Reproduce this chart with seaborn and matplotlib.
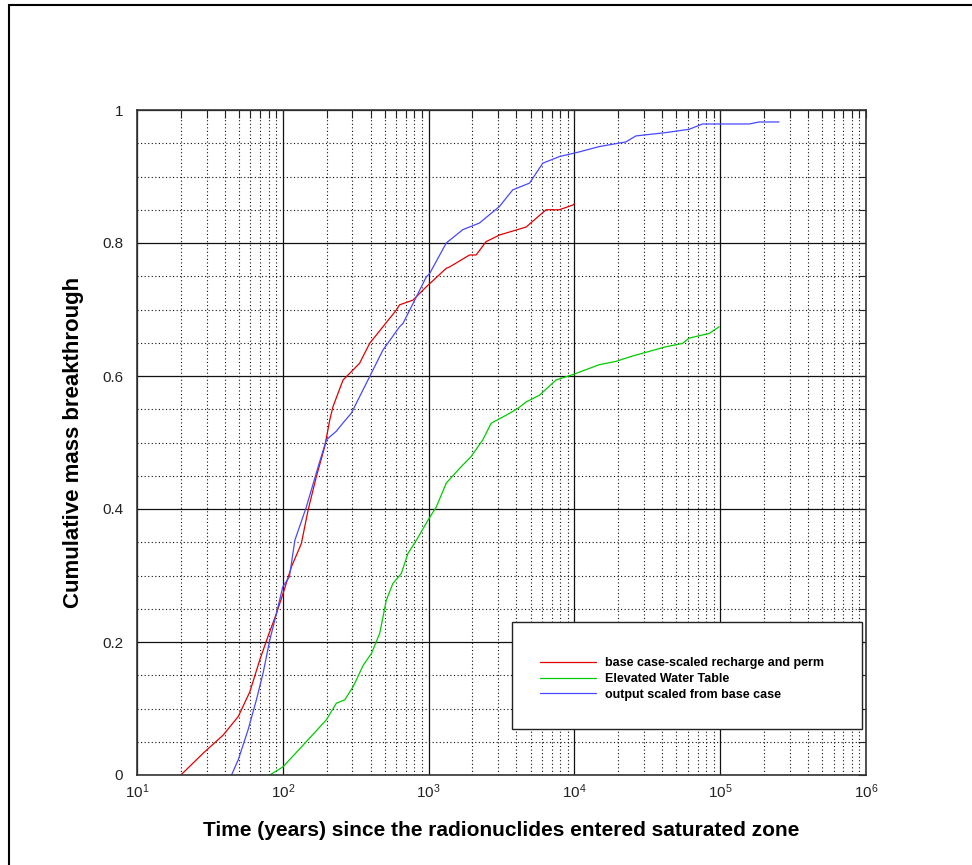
import pandas as pd
import seaborn as sns
import matplotlib.pyplot as plt
from matplotlib.patches import Rectangle
from matplotlib.ticker import LogLocator, MultipleLocator, NullFormatter

sns.set_style("white")
plt.rcParams['font.family'] = ['Liberation Sans', 'DejaVu Sans']
plt.rcParams['mathtext.default'] = 'regular'
plt.rcParams['text.color'] = 'black'
plt.rcParams['axes.labelcolor'] = 'black'

# base case-scaled recharge and perm
red_t = [20, 28.5, 39, 49.5, 59.4, 69.5, 79, 90.5, 100.4, 114.6, 134, 149, 170, 194,
         210, 221, 259, 273, 336, 394, 486, 600, 632, 780, 963, 1322, 1393, 1910,
         2119, 2478, 3063, 4663, 6395, 7890, 9730, 10000]
red_v = [0, 0.033, 0.06, 0.088, 0.125, 0.173, 0.208, 0.243, 0.273, 0.313, 0.348, 0.398,
         0.449, 0.494, 0.534, 0.554, 0.594, 0.599, 0.619, 0.649, 0.674, 0.699, 0.707,
         0.714, 0.734, 0.762, 0.764, 0.782, 0.782, 0.802, 0.812, 0.824, 0.85, 0.85,
         0.857, 0.859]

# Elevated Water Table
green_t = [81.4, 100, 138, 199, 233, 266, 304, 356, 406, 462, 513, 569, 650, 721, 824,
           989, 1129, 1322, 1630, 1959, 2354, 2686, 3400, 4085, 4663, 5750, 7480, 9730,
           14800, 19300, 25000, 32600, 42400, 55200, 61300, 84000, 98400]
green_v = [0, 0.012, 0.045, 0.083, 0.108, 0.113, 0.133, 0.165, 0.183, 0.213, 0.263, 0.288,
           0.303, 0.333, 0.353, 0.383, 0.403, 0.439, 0.461, 0.479, 0.504, 0.529, 0.541,
           0.551, 0.561, 0.571, 0.594, 0.602, 0.617, 0.622, 0.63, 0.637, 0.644, 0.649,
           0.657, 0.664, 0.674]

# output scaled from base case
blue_t = [44.5, 49.5, 57.8, 65.9, 73.2, 81.4, 90.5, 100, 111, 121, 145, 175, 199, 233,
          260, 295, 394, 486, 632, 667, 824, 964, 1016, 1322, 1714, 2233, 3063,
          3780, 4920, 6070, 7890, 10810, 14800, 22550, 26400, 42300, 61300, 75700,
          158000, 185000, 253000]
blue_v = [0, 0.023, 0.068, 0.113, 0.153, 0.203, 0.243, 0.283, 0.298, 0.353, 0.403, 0.464,
          0.504, 0.517, 0.53, 0.544, 0.599, 0.639, 0.674, 0.679, 0.719, 0.749,
          0.754, 0.8, 0.82, 0.83, 0.855, 0.88, 0.89, 0.92, 0.93, 0.937, 0.945, 0.952,
          0.961, 0.966, 0.971, 0.979, 0.979, 0.982, 0.982]

labels = ['base case-scaled recharge and perm', 'Elevated Water Table',
          'output scaled from base case']
colors = ['#e00000', '#00cc00', '#4848ff']

x_ticks = [1e1, 1e2, 1e3, 1e4, 1e5, 1e6]
x_labels = ['$10^1$', '$10^2$', '$10^3$', '$10^4$', '$10^5$', '$10^6$']
y_ticks = [0, 0.2, 0.4, 0.6, 0.8, 1]
y_labels = ['0', '0.2', '0.4', '0.6', '0.8', '1']

df = pd.concat([
    pd.DataFrame({'t': red_t, 'v': red_v, 'series': labels[0]}),
    pd.DataFrame({'t': green_t, 'v': green_v, 'series': labels[1]}),
    pd.DataFrame({'t': blue_t, 'v': blue_v, 'series': labels[2]}),
])

fig = plt.figure(figsize=(9.72, 8.65), dpi=100)
ax = fig.add_axes([137 / 972, 1 - 775 / 865, 729 / 972, 665 / 865])

sns.lineplot(data=df, x='t', y='v', hue='series', palette=colors, hue_order=labels,
             estimator=None, sort=False, lw=0.9, ax=ax)

ax.set_xscale('log')
ax.set_xlim(10, 1e6)
ax.set_ylim(0, 1)
ax.set_xticks(x_ticks)
ax.set_xticklabels(x_labels)
ax.xaxis.set_minor_locator(LogLocator(base=10, subs=range(2, 10)))
ax.xaxis.set_minor_formatter(NullFormatter())
ax.set_yticks(y_ticks)
ax.set_yticklabels(y_labels)
ax.yaxis.set_minor_locator(MultipleLocator(0.05))

ax.tick_params(which='both', direction='in', top=True, right=True, length=6,
               width=0.8, color='#222222', labelsize=11, labelcolor='#222222')
ax.tick_params(axis='y', pad=10)
ax.tick_params(axis='x', pad=5)

ax.grid(which='major', color='#111111', lw=0.9, ls='-')
ax.grid(which='minor', color='#111111', lw=0.8, ls=(0, (1, 2.2)))
ax.set_axisbelow(True)
for s in ax.spines.values():
    s.set_color('#333333')
    s.set_linewidth(1.2)

ax.set_xlabel('Time (years) since the radionuclides entered saturated zone',
              fontsize=15, fontweight='bold', labelpad=15)
ax.set_ylabel('Cumulative mass breakthrough', fontsize=16, fontweight='bold', labelpad=13)

# legend box
box = Rectangle((0.514, 0.069), 0.48, 0.161, transform=ax.transAxes, facecolor='white',
                edgecolor='#222222', lw=1.0, zorder=4, clip_on=False)
ax.add_patch(box)
h, l = ax.get_legend_handles_labels()
leg = ax.legend(h, l, loc='upper left', bbox_to_anchor=(0.553, 0.177), frameon=False,
                borderpad=0, borderaxespad=0, handlelength=4.5, handletextpad=0.7,
                labelspacing=0.3, prop={'size': 9, 'weight': 'bold'})
leg.set_zorder(5)

# figure frame
fig.patches.append(Rectangle((9 / 972, -0.5), 2, 1.5 - 5 / 865, transform=fig.transFigure,
                             fill=False, edgecolor='black', lw=1.5))

fig.savefig('out.png', dpi=100)
